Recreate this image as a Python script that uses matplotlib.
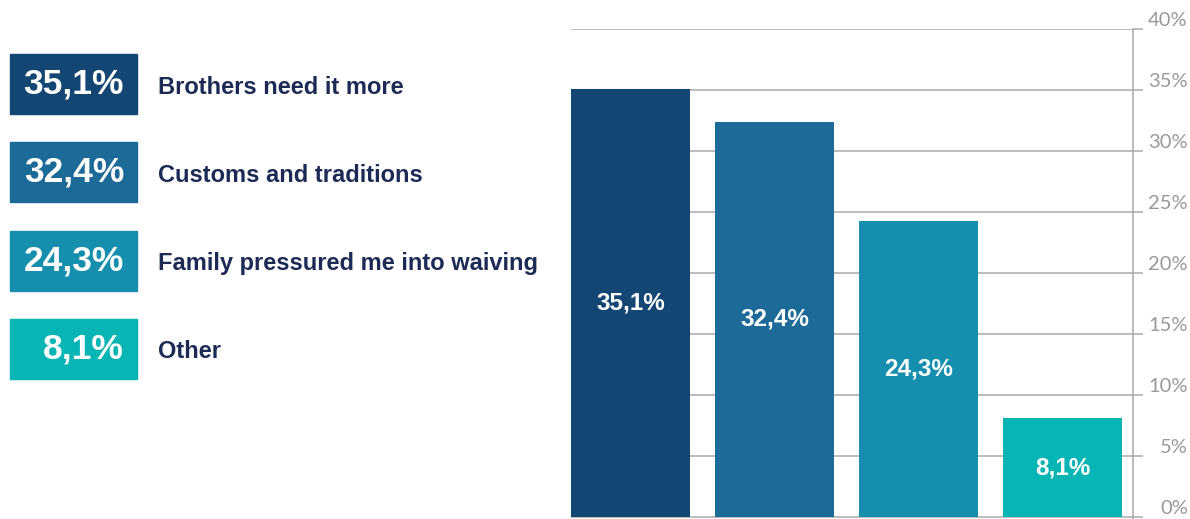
import matplotlib
matplotlib.use('Agg')
import matplotlib.pyplot as plt
from matplotlib.patches import Rectangle

# data
categories = ['Brothers need it more', 'Customs and traditions',
              'Family pressured me into waiving', 'Other']
values = [35.1, 32.4, 24.3, 8.1]
labels = ['35,1%', '32,4%', '24,3%', '8,1%']
colors = ['#134673', '#1b6a97', '#168faf', '#07b5b5']
yticks = [0, 5, 10, 15, 20, 25, 30, 35, 40]
ytick_labels = ['0%', '5%', '10%', '15%', '20%', '25%', '30%', '35%', '40%']

W, H = 1190, 519
fig = plt.figure(figsize=(W / 100, H / 100), dpi=100)

grid_col = '#aaaaaa'
text_col = '#1c2b55'

# bar chart, placed in pixel units
ax = fig.add_axes([571 / W, 0, (1133 - 571) / W, (519 - 29) / H])
x = list(range(len(values)))
bw = 119 / 144
ax.bar(x, values, width=bw, color=colors, zorder=2)
ax.set_xlim(-bw / 2, -bw / 2 + 562 / 144)
ax.set_ylim(-2 / 12.2, 40)

for xi, v, lab in zip(x, values, labels):
    ax.text(xi, v / 2, lab, ha='center', va='center', color='white',
            fontsize=17.5, fontweight='bold', family='Liberation Sans', zorder=3)

for s in ['top', 'left', 'bottom']:
    ax.spines[s].set_visible(False)
ax.spines['right'].set_color(grid_col)
ax.spines['right'].set_linewidth(1.1)
ax.set_xticks([])
ax.yaxis.tick_right()
ax.set_yticks(yticks)
ax.set_yticklabels(ytick_labels)
ax.tick_params(axis='y', length=7.5, width=1.1, color=grid_col, pad=32,
               labelsize=14.5, labelcolor='#999999')
for t in ax.get_yticklabels():
    t.set_ha('right')
    t.set_va('bottom')
    t.set_family('Lato')
ax.yaxis.grid(True, color=grid_col, linewidth=1.1, zorder=0)
ax.set_axisbelow(True)

# legend on the left, pixel coordinates
lg = fig.add_axes([0, 0, 1, 1])
lg.set_xlim(0, W)
lg.set_ylim(H, 0)
lg.axis('off')
lg.patch.set_alpha(0)
for i, (cat, lab, c) in enumerate(zip(categories, labels, colors)):
    top = 54 + i * 88.3
    lg.add_patch(Rectangle((10, top), 127, 60, color=c))
    lg.text(124, top + 30, lab, ha='right', va='center', color='white',
            fontsize=25.5, fontweight='bold', family='Liberation Sans')
    lg.text(158, top + 33, cat, ha='left', va='center', color=text_col,
            fontsize=17, fontweight='bold', family='Liberation Sans')

fig.savefig('out.png', dpi=100)
